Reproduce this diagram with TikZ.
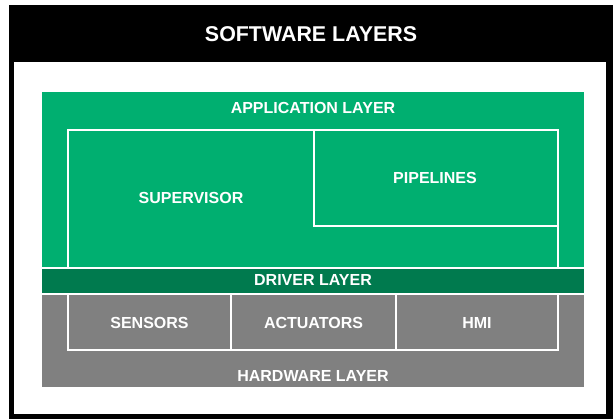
\documentclass[tikz,border=0pt]{standalone}
\usepackage{fontspec}
\setmainfont{Liberation Sans}
\usetikzlibrary{positioning}
\definecolor{appgreen}{RGB}{0,175,112}
\definecolor{drvgreen}{RGB}{0,122,78}
\definecolor{hwgray}{RGB}{128,128,128}

\tikzset{
  layer/.style={anchor=north west, inner sep=0pt, outer sep=0pt},
  lbl/.style={text=white, inner sep=0pt, text height=11.5pt, text depth=0pt,
    font=\bfseries\fontsize{16}{18}\selectfont},
  wline/.style={draw=white, line width=2pt}
}

\begin{document}
\begin{tikzpicture}[x=1pt,y=-1pt]
  %%%%% FRAME %%%%%
  \useasboundingbox (0,0) rectangle (613,419);
  \fill[black] (9,5) rectangle (613,419);
  \fill[white] (14,62) rectangle (606,414);
  \node[lbl, text height=15.3pt, font=\bfseries\fontsize{21.4}{24}\selectfont] (title) at (311,34) {SOFTWARE LAYERS};

  %%%%% APPLICATION %%%%%
  \fill[appgreen] (42,92) rectangle (584,267.5);
  \node[lbl] (app) at (313,108) {APPLICATION LAYER};
  \draw[wline] (68,268) -- (68,130) -- (558,130) -- (558,268);
  \draw[wline] (314,130) rectangle (558,226);
  \node[lbl] (sup) at (191,198) {SUPERVISOR};
  \node[lbl] (pipe) at (435,178) {PIPELINES};

  %%%%% DRIVER %%%%%
  \fill[drvgreen] (42,269.5) rectangle (584,293);
  \node[lbl] (drv) at (313,280) {DRIVER LAYER};

  %%%%% HARDWARE %%%%%
  \fill[hwgray] (42,295.5) rectangle (584,387);
  \draw[wline] (68,295) -- (68,350) -- (558,350) -- (558,295);
  \draw[wline] (231,295) -- (231,350);
  \draw[wline] (396,295) -- (396,350);
  \node[lbl] (sens) at (149.5,323) {SENSORS};
  \node[lbl] (act) at (313.5,323) {ACTUATORS};
  \node[lbl] (hmi) at (477,323) {HMI};
  \node[lbl] (hw) at (313,376) {HARDWARE LAYER};
\end{tikzpicture}
\end{document}
